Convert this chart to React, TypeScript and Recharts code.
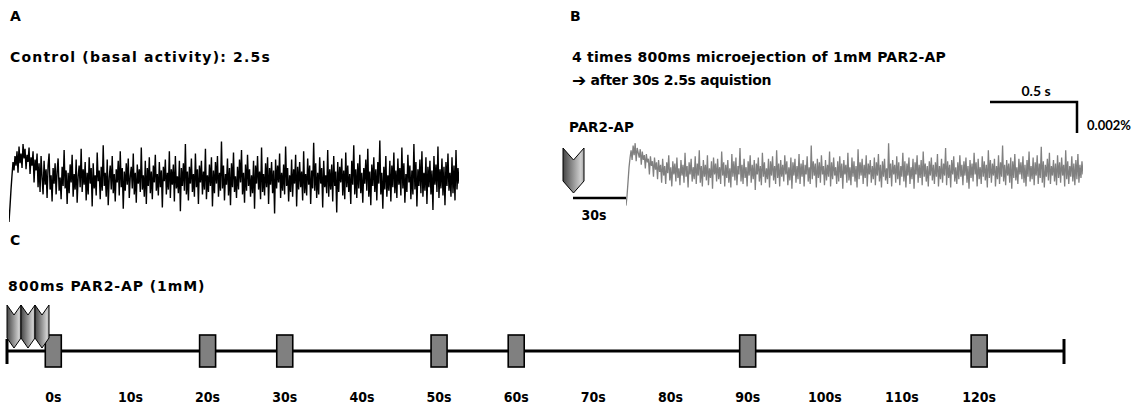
import React from "react";
import { ComposedChart, Line, LineChart, ReferenceLine, Scatter, XAxis, YAxis } from "recharts";

// Panel A: basal activity trace (offset from baseline, arbitrary units)
const CONTROL_TRACE = [
  -35, -22, -8, 4, 15, 8, 20, 12, 24, 6, 28, 14, 22, 10, 30, 18, 26, 9, 21, 15, 27, 5, 19, 12, 24, -2, 17, 8, 22, -6,
  14, -10, 20, 2, -12, 16, -4, 9, -15, 12, 22, -8, 4, -18, 10, -3, 14, -12, 7, 18, -9, 2, -16, 11, -5, 25, -7, 8, -20, 6,
  -11, 13, -2, 21, -14, 5, -8, 17, -19, 3, 12, -6, 26, -10, 9, -4, 15, -17, 6, -12, 19, -3, 10, -22, 14, -7, 4, -13, 23, -1,
  8, -16, 11, -9, 29, -5, 6, -14, 17, -21, 2, 12, -8, 20, -11, 5, -18, 9, -2, 16, -13, 24, -6, 10, -24, 7, -9, 14, -4, 18,
  -15, 3, 11, -7, 22, -12, 6, -19, 13, -3, 9, -10, 27, -8, 4, -14, 16, -20, 10, -5, 19, -11, 7, -16, 12, -2, 21, -9, 5, -13,
  15, -6, 8, -23, 11, -1, 17, -12, 6, -8, 24, -15, 9, -4, 13, -18, 20, -7, 3, -11, 16, -26, 10, -5, 14, -9, 30, -12, 7, -17,
  11, -3, 18, -10, 5, -14, 22, -6, 9, -20, 12, -2, 16, -12, 7, -8, 26, -16, 4, -10, 13, -5, 19, -22, 8, -11, 15, -3, 20, -14,
  6, -9, 32, -7, 12, -17, 5, -4, 18, -13, 10, -21, 14, -6, 23, -10, 3, -15, 11, -8, 17, -2, 25, -12, 6, -19, 13, -9, 21, -5,
  9, -14, 4, -11, 16, -24, 12, -3, 20, -8, 7, -16, 27, -10, 5, -13, 14, -6, 19, -20, 10, -4, 15, -11, 8, -28, 17, -7, 12, -2,
  22, -15, 6, -9, 13, -12, 28, -5, 10, -18, 4, -10, 17, -14, 9, -3, 21, -22, 11, -8, 15, -6, 7, -17, 24, -11, 5, -13, 18, -4,
  12, -20, 8, -7, 31, -9, 14, -15, 6, -12, 19, -3, 10, -23, 16, -6, 4, -11, 25, -14, 9, -8, 13, -18, 20, -5, 7, -27, 15, -10,
  11, -2, 18, -13, 8, -16, 23, -6, 12, -10, 5, -20, 16, -4, 29, -12, 9, -15, 14, -7, 21, -11, 6, -19, 10, -3, 17, -9, 26, -14,
  7, -21, 13, -5, 19, -10, 9, -17, 15, -3, 33, -12, 6, -24, 11, -8, 20, -14, 4, -9, 16, -18, 12, -6, 23, -11, 8, -15, 18, -4,
  10, -13, 27, -7, 14, -19, 5, -10, 21, -2, 12, -16, 8, -12, 30, -8, 15, -22, 9, -5, 17, -11, 24, -14, 6, -9, 19, -20, 11, -6,
  16, -12, 8, -25, 20, -4, 13, -10, 28, -15, 9, -7, 18, -13, 11, -21, 15, -5, 22, -9, 6, -14, 19, -11, 12, -17, 25, -8, 10, -3,
];

// Panel B: trace 30 s after PAR2-AP
const PAR2_TRACE = [
  -28, -20, -8, 4, 12, 18, 10, 22, 14, 24, 9, 20, 16, 12, 19, 6, 17, 10, 14, 3, 15, 8, 11, -2, 13, 5, 9, -4, 12, 2,
  8, -6, 10, 0, 6, -9, 11, -3, 5, -10, 8, -1, 14, -7, 4, -12, 9, -2, 7, -8, 12, -5, 3, -11, 10, -3, 6, -9, 16, -4,
  5, -13, 8, -2, 11, -8, 4, -6, 13, -10, 7, -3, 18, -9, 5, -12, 10, -4, 6, -7, 14, -11, 3, -5, 9, -14, 12, -2, 7, -8,
  11, -6, 4, -10, 17, -3, 8, -12, 6, -5, 10, -9, 3, -13, 15, -4, 9, -7, 12, -11, 5, -2, 20, -8, 6, -10, 11, -5, 4, -12,
  9, -3, 14, -9, 6, -6, 10, -15, 7, -2, 12, -8, 5, -11, 16, -4, 8, -9, 3, -6, 11, -13, 9, -3, 13, -7, 5, -10, 18, -5,
  7, -12, 10, -4, 6, -8, 14, -2, 9, -11, 4, -7, 12, -14, 8, -3, 11, -9, 5, -6, 15, -10, 7, -4, 10, -12, 6, -2, 13, -8,
  4, -10, 22, -6, 9, -3, 7, -13, 11, -5, 8, -9, 14, -2, 5, -11, 10, -7, 6, -4, 17, -12, 8, -6, 12, -3, 4, -10, 9, -8,
  13, -5, 7, -14, 10, -2, 6, -9, 16, -7, 4, -11, 12, -4, 9, -8, 5, -13, 19, -6, 8, -3, 11, -10, 6, -5, 14, -12, 7, -2,
  10, -9, 5, -6, 12, -11, 8, -3, 15, -8, 6, -13, 9, -4, 11, -7, 3, -10, 24, -5, 7, -12, 10, -2, 6, -9, 13, -6, 8, -11,
  5, -4, 16, -8, 9, -13, 7, -3, 12, -10, 4, -6, 11, -14, 8, -2, 14, -9, 6, -5, 10, -11, 17, -4, 7, -8, 5, -12, 9, -3,
  12, -7, 6, -10, 8, -4, 15, -12, 5, -6, 11, -9, 7, -3, 20, -11, 9, -5, 6, -13, 10, -2, 13, -8, 4, -10, 8, -6, 14, -4,
  6, -11, 9, -3, 12, -9, 5, -14, 10, -5, 7, -8, 16, -2, 8, -12, 11, -6, 4, -10, 13, -4, 9, -7, 6, -13, 18, -5, 10, -9,
  7, -3, 11, -12, 5, -6, 14, -10, 8, -4, 22, -8, 6, -11, 10, -3, 7, -9, 12, -14, 9, -5, 15, -7, 4, -10, 11, -2, 8, -6,
  13, -9, 6, -12, 10, -4, 17, -8, 5, -6, 12, -11, 8, -3, 14, -10, 7, -5, 21, -9, 9, -13, 6, -4, 11, -7, 16, -10, 5, -3,
  10, -8, 7, -11, 14, -5, 8, -9, 12, -3, 6, -12, 18, -6, 9, -10, 5, -4, 13, -8, 7, -11, 10, -6, 15, -9, 6, -5, 9, -2,
];

// Panel C: protocol timeline
const TIMELINE_TICKS = [0, 10, 20, 30, 40, 50, 60, 70, 80, 90, 100, 110, 120];
const ACQ_TIMES = [0, 20, 30, 50, 60, 90, 120];
const TIMELINE_START = -6;
const TIMELINE_END = 131;

const TITLE_FONT = "'DejaVu Sans', Verdana, sans-serif";
const NARROW_FONT = "'Liberation Sans Narrow', 'DejaVu Sans Condensed', sans-serif";
const SCALE_FONT = "Lato, 'Open Sans', sans-serif";
const GRAY = "#808080";

function chevron(x: number, top: number, w: number, h: number, notch: number): string {
  return `M${x},${top} L${x + w / 2},${top + notch} L${x + w},${top} L${x + w},${top + h - notch} L${x + w / 2},${top + h} L${x},${top + h - notch} Z`;
}

function Trace({ values, color, width, height, domain, strokeWidth }: {
  values: number[];
  color: string;
  width: number;
  height: number;
  domain: [number, number];
  strokeWidth: number;
}) {
  const data = values.map((v, i) => ({ i, v }));
  return (
    <LineChart width={width} height={height} data={data} margin={{ top: 0, right: 0, bottom: 0, left: 0 }}>
      <XAxis dataKey="i" type="number" domain={[0, values.length - 1]} hide />
      <YAxis type="number" domain={domain} allowDataOverflow hide />
      <Line dataKey="v" stroke={color} strokeWidth={strokeWidth} dot={false} isAnimationActive={false} />
    </LineChart>
  );
}

function AcqBox(props: { cx?: number; cy?: number }) {
  const { cx = 0, cy = 0 } = props;
  return <rect x={cx - 8} y={cy - 16} width={16} height={32} fill={GRAY} stroke="#000" strokeWidth={1.6} />;
}

export default function App() {
  const acqData = ACQ_TIMES.map((t) => ({ t, y: 34 }));
  const titleStyle = { fontFamily: TITLE_FONT, fontWeight: 700, fontSize: 14, letterSpacing: 0.4 };

  return (
    <div style={{ position: "absolute", left: 0, top: 0, width: 1139, height: 409, background: "#fff", overflow: "hidden" }}>
      <div style={{ position: "absolute", left: 9, top: 130 }}>
        <Trace values={CONTROL_TRACE} color="#000" width={450} height={100} domain={[-41.7, 41.7]} strokeWidth={1.4} />
      </div>
      <div style={{ position: "absolute", left: 626, top: 120 }}>
        <Trace values={PAR2_TRACE} color={GRAY} width={457} height={100} domain={[-40, 43.3]} strokeWidth={1.3} />
      </div>

      <div style={{ position: "absolute", left: 0, top: 320 }}>
        <ComposedChart width={1139} height={89} data={acqData} margin={{ top: 0, right: 75, bottom: 0, left: 7 }}>
          <XAxis
            dataKey="t"
            type="number"
            domain={[TIMELINE_START, TIMELINE_END]}
            ticks={TIMELINE_TICKS}
            interval={0}
            tickFormatter={(v: number) => `${v}s`}
            axisLine={false}
            tickLine={false}
            tickSize={0}
            tickMargin={7}
            height={24}
            tick={{ fill: "#000", fontSize: 14, fontWeight: 700, fontFamily: NARROW_FONT }}
          />
          <YAxis dataKey="y" type="number" domain={[0, 65]} hide />
          <ReferenceLine
            segment={[{ x: TIMELINE_START, y: 34 }, { x: TIMELINE_END, y: 34 }]}
            stroke="#000"
            strokeWidth={3}
            ifOverflow="visible"
          />
          <ReferenceLine segment={[{ x: TIMELINE_START, y: 21 }, { x: TIMELINE_START, y: 46 }]} stroke="#000" strokeWidth={3} ifOverflow="visible" />
          <ReferenceLine segment={[{ x: TIMELINE_END, y: 21 }, { x: TIMELINE_END, y: 46 }]} stroke="#000" strokeWidth={3} ifOverflow="visible" />
          <Scatter dataKey="y" shape={<AcqBox />} isAnimationActive={false} zIndex={700} />
        </ComposedChart>
      </div>

      <svg width={1139} height={409} style={{ position: "absolute", left: 0, top: 0, pointerEvents: "none" }}>
        <defs>
          <linearGradient id="chev" x1="0" y1="0" x2="1" y2="0">
            <stop offset="0%" stopColor="#454545" />
            <stop offset="85%" stopColor="#d0d0d0" />
            <stop offset="100%" stopColor="#a0a0a0" />
          </linearGradient>
        </defs>

        <text x={10} y={16} dominantBaseline="central" style={titleStyle}>A</text>
        <text x={10} y={57} dominantBaseline="central" style={{ ...titleStyle, letterSpacing: 1.2 }}>Control (basal activity): 2.5s</text>

        <text x={570} y={16} dominantBaseline="central" style={titleStyle}>B</text>
        <text x={572} y={57} dominantBaseline="central" style={{ ...titleStyle, letterSpacing: 0.25 }}>4 times 800ms microejection of 1mM PAR2-AP</text>
        <text x={572} y={80} dominantBaseline="central" style={{ ...titleStyle, letterSpacing: -0.3 }}>
          <tspan style={{ fontSize: 17 }}>➔</tspan> after 30s 2.5s aquistion
        </text>

        <text x={1036} y={90} textAnchor="middle" dominantBaseline="central" style={{ fontFamily: SCALE_FONT, fontWeight: 700, fontSize: 14 }}>0.5 s</text>
        <path d="M990,102 L1077,102 L1077,133" fill="none" stroke="#000" strokeWidth={2.5} />
        <text x={1087} y={125} dominantBaseline="central" style={{ fontFamily: SCALE_FONT, fontWeight: 700, fontSize: 13 }}>0.002%</text>

        <text x={569} y={127} dominantBaseline="central" style={{ ...titleStyle, fontSize: 13.5, letterSpacing: 0 }}>PAR2-AP</text>
        <path d={chevron(563, 148, 21, 45, 12)} fill="url(#chev)" stroke="#000" strokeWidth={1} />
        <line x1={573} y1={198} x2={626} y2={198} stroke="#000" strokeWidth={2.5} />
        <text x={594} y={215} textAnchor="middle" dominantBaseline="central" style={{ fontFamily: NARROW_FONT, fontWeight: 700, fontSize: 14 }}>30s</text>

        <text x={10} y={240} dominantBaseline="central" style={titleStyle}>C</text>
        <text x={8} y={286} dominantBaseline="central" style={{ ...titleStyle, letterSpacing: 0.9 }}>800ms PAR2-AP (1mM)</text>
        {[7, 21, 35].map((x) => (
          <path key={x} d={chevron(x, 305, 14, 43, 10)} fill="url(#chev)" stroke="#000" strokeWidth={1} />
        ))}
      </svg>
    </div>
  );
}
